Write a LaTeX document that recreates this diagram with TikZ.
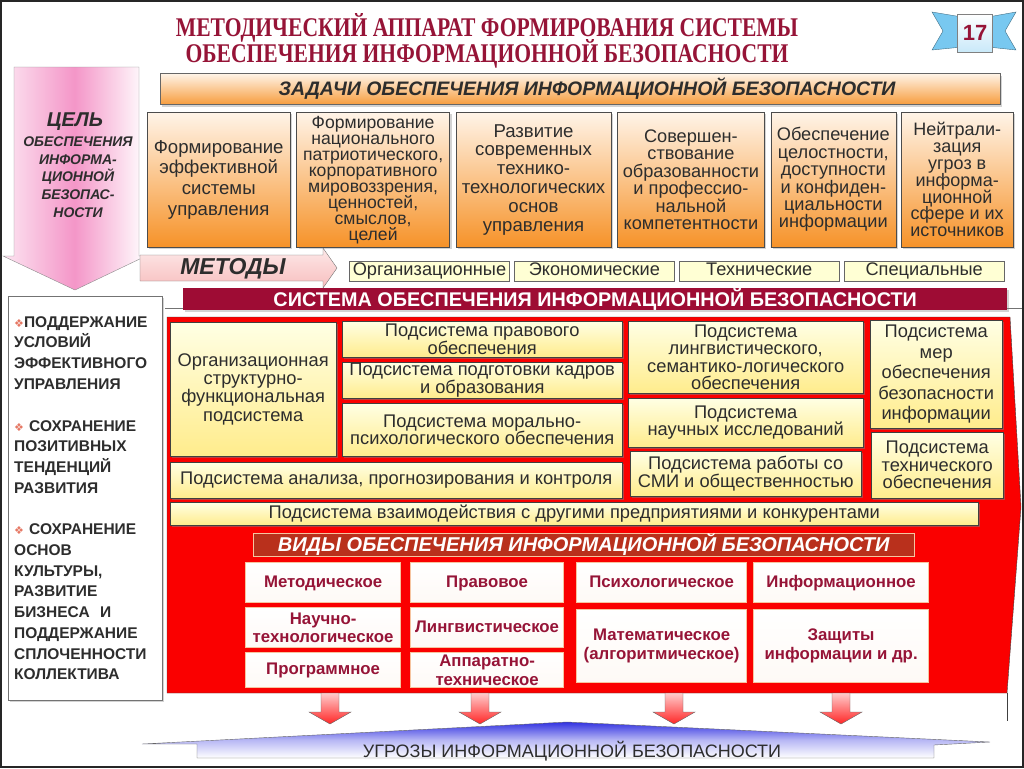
\documentclass[tikz,border=0pt]{standalone}
\usepackage{fontspec}
\setmainfont{Liberation Sans}
\newfontfamily\titlefont[FakeStretch=0.8]{Liberation Serif}
\newfontfamily\symfont{DejaVu Sans}
\usetikzlibrary{positioning, shadows}

\definecolor{ink}{RGB}{45,45,45}
\definecolor{wine}{RGB}{150,20,55}
\definecolor{barwine}{RGB}{158,12,52}
\definecolor{taskhi}{RGB}{255,244,232}
\definecolor{tasklo}{RGB}{246,146,40}
\definecolor{goalpink}{RGB}{244,150,200}
\definecolor{methpink}{RGB}{248,190,190}
\definecolor{cream}{RGB}{255,255,212}
\definecolor{yelhi}{RGB}{255,255,228}
\definecolor{yello}{RGB}{255,236,140}
\definecolor{sysred}{RGB}{250,0,0}
\definecolor{kindhdr}{RGB}{185,48,28}
\definecolor{kindedge}{RGB}{246,196,160}
\definecolor{ribbon}{RGB}{120,200,240}
\definecolor{bulletc}{RGB}{230,120,100}
\definecolor{threatblue}{RGB}{50,50,225}

\newcommand{\bul}{{\color{bulletc}\symfont\fontsize{11}{11}\selectfont ❖}}

\tikzset{
    every node/.style={text=ink}, % dark grey text everywhere
    shade box/.style={drop shadow={opacity=0.35, shadow xshift=2pt, shadow yshift=-2pt}}, % soft shadow under boxes
    oneline/.style={text height=13pt, text depth=4pt}, % same baseline in a row of labels
    headline/.style={font=\bfseries\itshape\fontsize{19.5}{19.5}\selectfont}, % bar captions
    taskbox/.style={draw=black!70, top color=taskhi, bottom color=tasklo, minimum height=135pt, inner sep=1pt, align=center, shade box}, % orange task cards
    methodbox/.style={draw=black!60, line width=0.9pt, fill=cream, minimum width=160pt, minimum height=20pt, inner sep=0pt, oneline, font=\fontsize{18.2}{18.2}\selectfont}, % method labels
    ybox/.style={anchor=north west, draw=black!75, top color=yelhi, bottom color=yello, inner sep=0pt, align=center, font=\fontsize{18.3}{17.5}\selectfont, drop shadow={opacity=0.5, shadow xshift=2pt, shadow yshift=-2pt}}, % subsystems
    kindbox/.style={anchor=north west, draw=kindedge, line width=1.2pt, top color=white, bottom color=white!90!kindedge, inner sep=0pt, align=center, text=wine, font=\bfseries\fontsize{16.8}{18.5}\selectfont}, % kinds of support
    listbox/.style={draw=black!55, fill=white, minimum height=404pt, text width=142pt, inner xsep=6pt, align=left, font=\bfseries\fontsize{15.5}{20.7}\selectfont, shade box}, % left list
}

\begin{document}
\lineskiplimit=-100pt
\begin{tikzpicture}[x=1pt, y=-1pt]
\useasboundingbox (0,0) rectangle (1024,768);

% title and page badge
\node[text=wine, align=center, font=\titlefont\bfseries\fontsize{27}{26}\selectfont] (title) at (487,41) {МЕТОДИЧЕСКИЙ АППАРАТ ФОРМИРОВАНИЯ СИСТЕМЫ\\ОБЕСПЕЧЕНИЯ ИНФОРМАЦИОННОЙ БЕЗОПАСНОСТИ};
\filldraw[fill=ribbon, draw=ribbon!55!black] (932,12) -- (962,17) -- (962,47) -- (932,50) -- (943,31) -- cycle;
\filldraw[fill=ribbon, draw=ribbon!55!black] (1016,12) -- (988,17) -- (988,47) -- (1016,50) -- (1005,31) -- cycle;
\node[draw=black!50, top color=white, bottom color=ribbon!40, minimum width=35pt, minimum height=38pt, inner sep=0pt, text=wine, font=\bfseries\fontsize{22}{22}\selectfont] (page) at (975,33) {17};

% goal arrow
\shadedraw[draw=black!45, left color=goalpink!25, right color=white, middle color=goalpink] (14,67) -- (139,67) -- (139,256) -- (146,256) -- (75,290) -- (3,256) -- (14,256) -- cycle;
\node[font=\bfseries\itshape\fontsize{20}{20}\selectfont] (goal) at (75,122) {ЦЕЛЬ};
\node[align=center, font=\bfseries\itshape\fontsize{14}{17.8}\selectfont] (goaltext) at (78,177) {ОБЕСПЕЧЕНИЯ\\ИНФОРМА-\\ЦИОННОЙ\\БЕЗОПАС-\\НОСТИ};

% tasks
\node[draw=black!60, top color=taskhi, bottom color=tasklo!90, minimum width=840pt, minimum height=31pt, headline, shade box] (tasks) at (580,89) {\hspace*{14pt}ЗАДАЧИ ОБЕСПЕЧЕНИЯ ИНФОРМАЦИОННОЙ БЕЗОПАСНОСТИ};
\node[taskbox, anchor=north west, minimum width=143pt, font=\fontsize{18.6}{20.7}\selectfont] (t1) at (147,112) {Формирование\\эффективной\\системы\\управления};
\node[taskbox, right=6pt of t1, minimum width=153pt, font=\fontsize{17.6}{16}\selectfont] (t2) {Формирование\\национального\\патриотического,\\корпоративного\\мировоззрения,\\ценностей,\\смыслов,\\целей};
\node[taskbox, right=6pt of t2, minimum width=155pt, font=\fontsize{18.6}{18.8}\selectfont] (t3) {Развитие\\современных\\технико-\\технологических\\основ\\управления};
\node[taskbox, right=6pt of t3, minimum width=147pt, font=\fontsize{18.2}{17.4}\selectfont] (t4) {Совершен-\\ствование\\образованности\\и профессио-\\нальной\\компетентности};
\node[taskbox, right=6pt of t4, minimum width=125pt, font=\fontsize{18.2}{17.4}\selectfont] (t5) {Обеспечение\\целостности,\\доступности\\и конфиден-\\циальности\\информации};
\node[taskbox, right=5pt of t5, minimum width=112pt, font=\fontsize{18}{16.8}\selectfont] (t6) {Нейтрали-\\зация\\угроз в\\информа-\\ционной\\сфере и их\\источников};

% methods
\shadedraw[draw=black!55, top color=methpink!35, bottom color=methpink] (140,255) -- (323,255) -- (323,248) -- (337,268) -- (323,288) -- (323,281) -- (140,281) -- cycle;
\node[font=\bfseries\itshape\fontsize{23}{23}\selectfont] (methods) at (233,269) {МЕТОДЫ};
\node[methodbox, anchor=north west] (m1) at (349,261) {Организационные};
\node[methodbox, right=4pt of m1] (m2) {Экономические};
\node[methodbox, right=4pt of m2] (m3) {Технические};
\node[methodbox, right=4pt of m3] (m4) {Специальные};

% security system
\draw[black!55] (165,308) -- (1024,308);
\node[anchor=north west, fill=barwine, minimum width=824pt, minimum height=19pt, inner sep=0pt, text=white, font=\bfseries\fontsize{19.8}{19.8}\selectfont, shade box] (system) at (183,288) {СИСТЕМА ОБЕСПЕЧЕНИЯ ИНФОРМАЦИОННОЙ БЕЗОПАСНОСТИ};
\filldraw[fill=sysred, draw=black!75] (167,317) -- (1010,317) -- (1021,507) -- (1007,693) -- (167,693) -- cycle;
\draw[black!75] (1007,693) -- (1007,721);

\node[ybox, minimum width=166pt, minimum height=134pt, font=\fontsize{18.3}{18.3}\selectfont] (org) at (170,322) {Организационная\\структурно-\\функциональная\\подсистема};
\node[ybox, minimum width=280pt, minimum height=36pt] (law) at (342,321) {Подсистема правового\\обеспечения};
\node[ybox, minimum width=280pt, minimum height=36pt] (staff) at (342,362) {Подсистема подготовки кадров\\и образования};
\node[ybox, minimum width=280pt, minimum height=53pt] (moral) at (342,403) {Подсистема морально-\\психологического обеспечения};
\node[ybox, minimum width=452pt, minimum height=36pt] (forecast) at (170,462) {Подсистема анализа, прогнозирования и контроля};
\node[ybox, minimum width=808pt, minimum height=23pt] (partners) at (170,502) {Подсистема взаимодействия с другими предприятиями и конкурентами};
\node[ybox, minimum width=235pt, minimum height=72pt] (ling) at (628,321) {Подсистема\\лингвистического,\\семантико-логического\\обеспечения};
\node[ybox, minimum width=235pt, minimum height=49pt] (science) at (628,398) {Подсистема\\научных исследований};
\node[ybox, minimum width=231pt, minimum height=45pt] (media) at (630,451) {Подсистема  работы со\\СМИ и общественностью};
\node[ybox, minimum width=132pt, minimum height=108pt, font=\fontsize{18.3}{20.5}\selectfont] (measures) at (870,320) {Подсистема\\мер\\обеспечения\\безопасности\\информации};
\node[ybox, minimum width=132pt, minimum height=66pt] (tech) at (871,432) {Подсистема\\технического\\обеспечения};

% kinds of support
\node[anchor=north west, fill=kindhdr, draw=kindedge, minimum width=661pt, minimum height=23pt, inner sep=0pt, text=white, font=\bfseries\itshape\fontsize{20}{20}\selectfont] (kinds) at (253,533) {ВИДЫ ОБЕСПЕЧЕНИЯ ИНФОРМАЦИОННОЙ БЕЗОПАСНОСТИ};
\node[kindbox, oneline, minimum width=155pt, minimum height=40pt] (k1) at (245,562) {Методическое};
\node[kindbox, minimum width=155pt, minimum height=40pt] (k2) at (245,607) {Научно-\\технологическое};
\node[kindbox, oneline, minimum width=155pt, minimum height=35pt] (k3) at (245,652) {Программное};
\node[kindbox, oneline, minimum width=153pt, minimum height=40pt] (k4) at (410,562) {Правовое};
\node[kindbox, oneline, minimum width=153pt, minimum height=40pt] (k5) at (410,607) {Лингвистическое};
\node[kindbox, minimum width=153pt, minimum height=35pt] (k6) at (410,652) {Аппаратно-\\техническое};
\node[kindbox, oneline, minimum width=170pt, minimum height=40pt] (k7) at (576,562) {Психологическое};
\node[kindbox, minimum width=170pt, minimum height=73pt] (k8) at (576,609) {Математическое\\(алгоритмическое)};
\node[kindbox, oneline, minimum width=175pt, minimum height=40pt] (k9) at (753,562) {Информационное};
\node[kindbox, minimum width=175pt, minimum height=73pt] (k10) at (753,609) {Защиты\\информации и др.};

% threats
\shadedraw[draw=black!60, top color=threatblue, bottom color=white, middle color=threatblue!35] (142,744) -- (567,722) -- (990,742) -- (934,745) -- (934,758) -- (197,758) -- (197,744) -- cycle;
\node[anchor=base, font=\fontsize{18}{18}\selectfont] (threats) at (572,757) {УГРОЗЫ ИНФОРМАЦИОННОЙ БЕЗОПАСНОСТИ};
\foreach \x [count=\i] in {330,480,674,841} {
    \coordinate (d\i) at (\x,693);
    \shadedraw[draw=black!60, top color=red!20, bottom color=red!85] (\x-9,693) -- (\x+9,693) -- (\x+9,712) -- (\x+21,712) -- (\x,724) -- (\x-21,712) -- (\x-9,712) -- cycle;
}

% aims list
\node[listbox, anchor=north west] (aims) at (8,296) {\bul ПОДДЕРЖАНИЕ\\УСЛОВИЙ\\ЭФФЕКТИВНОГО\\УПРАВЛЕНИЯ\\[21pt]\bul\ СОХРАНЕНИЕ\\ПОЗИТИВНЫХ\\ТЕНДЕНЦИЙ\\РАЗВИТИЯ\\[21pt]\bul\ СОХРАНЕНИЕ\\ОСНОВ\\КУЛЬТУРЫ,\\РАЗВИТИЕ\\БИЗНЕСА~ И\\ПОДДЕРЖАНИЕ\\СПЛОЧЕННОСТИ\\КОЛЛЕКТИВА};

% slide frame
\draw[black!85, line width=1.5pt] (1,1) rectangle (1023,767);
\end{tikzpicture}
\end{document}
